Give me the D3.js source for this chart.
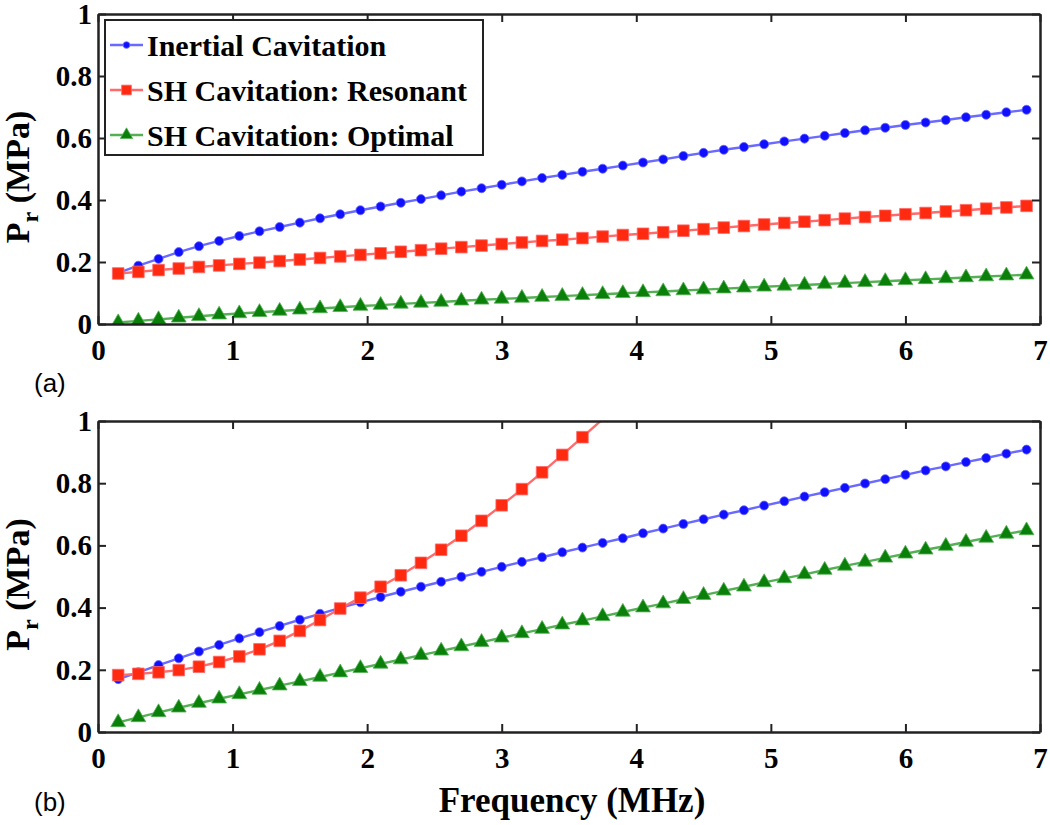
<!DOCTYPE html>
<html>
<head>
<meta charset="utf-8">
<script src="https://cdn.jsdelivr.net/npm/d3@7"></script>
<style>
  body { margin: 0; background: #fff; }
  svg { display: block; }
</style>
</head>
<body>
<div id="chart"></div>
<script>
// frequencies (MHz) shared by every curve
var freq = [0.15, 0.30, 0.45, 0.60, 0.75, 0.90, 1.05, 1.20, 1.35, 1.50,
            1.65, 1.80, 1.95, 2.10, 2.25, 2.40, 2.55, 2.70, 2.85, 3.00,
            3.15, 3.30, 3.45, 3.60, 3.75, 3.90, 4.05, 4.20, 4.35, 4.50,
            4.65, 4.80, 4.95, 5.10, 5.25, 5.40, 5.55, 5.70, 5.85, 6.00,
            6.15, 6.30, 6.45, 6.60, 6.75, 6.90];

// panel (a), Pr in MPa
var inertialA = [0.165, 0.188, 0.210, 0.232, 0.251, 0.268, 0.284, 0.299, 0.313, 0.327,
                 0.341, 0.354, 0.367, 0.379, 0.391, 0.403, 0.415, 0.427, 0.438, 0.449,
                 0.460, 0.471, 0.481, 0.491, 0.501, 0.511, 0.521, 0.531, 0.542, 0.552,
                 0.562, 0.571, 0.580, 0.589, 0.598, 0.607, 0.616, 0.625, 0.633, 0.642,
                 0.650, 0.658, 0.667, 0.675, 0.683, 0.691];
var resonantA = [0.163, 0.168, 0.174, 0.179, 0.184, 0.189, 0.194, 0.198, 0.203, 0.208,
                 0.213, 0.218, 0.223, 0.228, 0.233, 0.238, 0.243, 0.248, 0.253, 0.258,
                 0.263, 0.268, 0.272, 0.277, 0.282, 0.287, 0.291, 0.296, 0.301, 0.306,
                 0.311, 0.316, 0.321, 0.326, 0.330, 0.335, 0.340, 0.345, 0.349, 0.354,
                 0.358, 0.363, 0.367, 0.372, 0.376, 0.381];
var optimalA = [0.005, 0.010, 0.015, 0.020, 0.025, 0.030, 0.034, 0.038, 0.042, 0.046,
                0.050, 0.054, 0.058, 0.061, 0.065, 0.068, 0.071, 0.075, 0.078, 0.081,
                0.084, 0.087, 0.090, 0.093, 0.096, 0.099, 0.102, 0.105, 0.108, 0.111,
                0.114, 0.117, 0.120, 0.123, 0.126, 0.129, 0.132, 0.135, 0.138, 0.141,
                0.144, 0.147, 0.150, 0.153, 0.156, 0.159];

// panel (b), Pr in MPa (resonant curve leaves the axes above 1 MPa)
var inertialB = [0.170, 0.192, 0.215, 0.237, 0.259, 0.280, 0.301, 0.321, 0.341, 0.361,
                 0.380, 0.399, 0.417, 0.434, 0.451, 0.467, 0.483, 0.499, 0.515, 0.531,
                 0.547, 0.562, 0.578, 0.593, 0.608, 0.623, 0.639, 0.654, 0.669, 0.684,
                 0.699, 0.713, 0.728, 0.742, 0.757, 0.771, 0.785, 0.799, 0.813, 0.827,
                 0.841, 0.854, 0.868, 0.881, 0.895, 0.908];
var resonantB = [0.183, 0.187, 0.192, 0.199, 0.210, 0.225, 0.243, 0.266, 0.293, 0.325,
                 0.360, 0.397, 0.432, 0.467, 0.504, 0.544, 0.586, 0.631, 0.679, 0.729,
                 0.781, 0.835, 0.891, 0.948, 1.006, 1.066];
var optimalB = [0.031, 0.047, 0.063, 0.078, 0.093, 0.107, 0.121, 0.135, 0.149, 0.163,
                0.177, 0.191, 0.205, 0.219, 0.233, 0.247, 0.261, 0.275, 0.289, 0.303,
                0.317, 0.331, 0.345, 0.358, 0.372, 0.386, 0.400, 0.413, 0.427, 0.440,
                0.454, 0.467, 0.481, 0.494, 0.507, 0.521, 0.534, 0.547, 0.560, 0.573,
                0.586, 0.598, 0.611, 0.624, 0.637, 0.648];

var seriesNames = ["Inertial Cavitation", "SH Cavitation: Resonant", "SH Cavitation: Optimal"];
var xTicks = [0, 1, 2, 3, 4, 5, 6, 7];
var yTicks = [0, 0.2, 0.4, 0.6, 0.8, 1];
var panelLabels = ["(a)", "(b)"];

var width = 1050,
    height = 825,
    plot_left = 98,
    plot_right = 1040,
    tickLen = 8,
    serif = "'Liberation Serif', 'Times New Roman', serif",
    sans = "'Liberation Sans', Arial, sans-serif";

var styles = [
    {line: "#6a6aff", fill: "#1010ff", symbol: d3.symbolCircle, size: 64},
    {line: "#ff6a6a", fill: "#ff2a10", symbol: d3.symbolSquare, size: 135},
    {line: "#55b055", fill: "#0a800a", symbol: d3.symbolTriangle, size: 95}
];

var panels = [
    {top: 14, bottom: 324, series: [inertialA, resonantA, optimalA], legend: true, xlabel: false},
    {top: 421, bottom: 732, series: [inertialB, resonantB, optimalB], legend: false, xlabel: true}
];

var svg = d3.select("#chart").append("svg")
    .attr("width", width)
    .attr("height", height);

var x = d3.scaleLinear().domain([0, 7]).range([plot_left, plot_right]);
var fmt = d3.format("~g");

panels.forEach(function(p, pi) {
    var y = d3.scaleLinear().domain([0, 1]).range([p.bottom, p.top]);
    var g = svg.append("g").attr("class", "panel-" + pi);

    // clip for the curves
    var clipId = "clip" + pi;
    svg.append("clipPath").attr("id", clipId)
        .append("rect")
        .attr("x", plot_left).attr("y", p.top)
        .attr("width", plot_right - plot_left).attr("height", p.bottom - p.top);

    var line = d3.line()
        .x(function(d) { return x(d[0]); })
        .y(function(d) { return y(d[1]); });

    var curves = g.append("g").attr("clip-path", "url(#" + clipId + ")");
    p.series.forEach(function(vals, si) {
        var pts = vals.map(function(v, i) { return [freq[i], v]; });
        var st = styles[si];
        curves.append("path")
            .attr("d", line(pts))
            .attr("fill", "none")
            .attr("stroke", st.line)
            .attr("stroke-width", 2.4);
        curves.selectAll(".m" + si)
            .data(pts.filter(function(d) { return d[1] <= 1; }))
            .enter().append("path")
            .attr("class", "m" + si)
            .attr("transform", function(d) { return "translate(" + x(d[0]) + "," + y(d[1]) + ")"; })
            .attr("d", d3.symbol().type(st.symbol).size(st.size))
            .attr("fill", st.fill)
            .attr("stroke", st.line)
            .attr("stroke-width", 0.8);
    });

    // axes, MATLAB-style box with inward ticks
    var axBottom = d3.axisBottom(x).tickValues(xTicks).tickFormat(fmt)
        .tickSizeInner(-tickLen).tickSizeOuter(0).tickPadding(15);
    var axTop = d3.axisTop(x).tickValues(xTicks).tickFormat("")
        .tickSizeInner(-tickLen).tickSizeOuter(0);
    var axLeft = d3.axisLeft(y).tickValues(yTicks).tickFormat(function(d) { return fmt(+d.toFixed(1)); })
        .tickSizeInner(-tickLen).tickSizeOuter(0).tickPadding(6);
    var axRight = d3.axisRight(y).tickValues(yTicks).tickFormat("")
        .tickSizeInner(-tickLen).tickSizeOuter(0);

    var gb = g.append("g").attr("transform", "translate(0," + p.bottom + ")").call(axBottom);
    var gt = g.append("g").attr("transform", "translate(0," + p.top + ")").call(axTop);
    var gl = g.append("g").attr("transform", "translate(" + plot_left + ",0)").call(axLeft);
    var gr = g.append("g").attr("transform", "translate(" + plot_right + ",0)").call(axRight);

    [gb, gt, gl, gr].forEach(function(a) {
        a.select(".domain").attr("stroke", "#222").attr("stroke-width", 2.5);
        a.selectAll(".tick line").attr("stroke", "#222").attr("stroke-width", 2);
        a.selectAll("text")
            .attr("font-family", serif)
            .attr("font-weight", "bold")
            .attr("font-size", 29)
            .attr("fill", "#000");
    });

    // y label: P_r (MPa)
    var yl = g.append("text")
        .attr("transform", "translate(29," + ((p.top + p.bottom) / 2 + 8) + ") rotate(-90)")
        .attr("text-anchor", "middle")
        .attr("font-family", serif)
        .attr("font-weight", "bold")
        .attr("font-size", 34);
    yl.append("tspan").text("P");
    yl.append("tspan").attr("dy", 9).attr("font-size", 24).text("r");
    yl.append("tspan").attr("dy", -9).text(" (MPa)");

    // panel letter
    g.append("text")
        .attr("x", 34)
        .attr("y", p.bottom + (pi === 0 ? 68 : 79))
        .attr("font-family", sans)
        .attr("font-size", 26)
        .text(panelLabels[pi]);

    if (p.xlabel) {
        g.append("text")
            .attr("x", 572)
            .attr("y", 812)
            .attr("text-anchor", "middle")
            .attr("font-family", serif)
            .attr("font-weight", "bold")
            .attr("font-size", 35)
            .text("Frequency (MHz)");
    }

    if (p.legend) {
        var lg = g.append("g").attr("class", "legend");
        lg.append("rect")
            .attr("x", 105).attr("y", 20)
            .attr("width", 378).attr("height", 135)
            .attr("fill", "#fff")
            .attr("stroke", "#222")
            .attr("stroke-width", 2);
        seriesNames.forEach(function(name, si) {
            var cy = 45 + si * 45;
            var st = styles[si];
            lg.append("line")
                .attr("x1", 110).attr("x2", 143)
                .attr("y1", cy).attr("y2", cy)
                .attr("stroke", st.line).attr("stroke-width", 2.4);
            lg.append("path")
                .attr("transform", "translate(126.5," + cy + ")")
                .attr("d", d3.symbol().type(st.symbol).size(si === 0 ? 35 : st.size * 0.7))
                .attr("fill", st.fill)
                .attr("stroke", st.line)
                .attr("stroke-width", 0.8);
            lg.append("text")
                .attr("x", 147)
                .attr("y", cy + 11)
                .attr("font-family", serif)
                .attr("font-weight", "bold")
                .attr("font-size", 30)
                .text(name);
        });
    }
});
</script>
</body>
</html>
